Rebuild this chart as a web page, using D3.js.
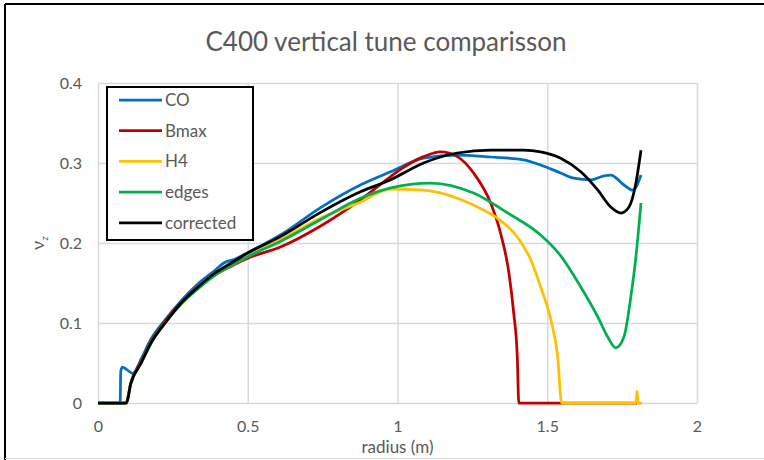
<!DOCTYPE html>
<html>
<head>
<meta charset="utf-8">
<script src="https://cdn.jsdelivr.net/npm/d3@7"></script>
<style>
  body { margin: 0; background: #fff; }
  text { font-family: Lato, "Open Sans", sans-serif; fill: #595959; }
</style>
</head>
<body>
<script>
// data: radius (m) and vertical tune
var coR = [0, 0.074, 0.076, 0.082, 0.095, 0.117, 0.144, 0.177, 0.224, 0.278, 0.334, 0.391, 0.42, 0.458, 0.5, 0.609, 0.742, 0.876, 0.977, 1.087, 1.2, 1.311, 1.421, 1.478, 1.545, 1.589, 1.645, 1.69, 1.712, 1.756, 1.786, 1.813];
var coV = [0, 0, 0.04, 0.045, 0.042, 0.037, 0.055, 0.08, 0.104, 0.128, 0.149, 0.166, 0.175, 0.18, 0.188, 0.21, 0.244, 0.2725, 0.289, 0.306, 0.31, 0.3075, 0.304, 0.2975, 0.2875, 0.281, 0.279, 0.284, 0.285, 0.2725, 0.266, 0.285];

var bmaxR = [0, 0.094, 0.11, 0.144, 0.177, 0.224, 0.278, 0.334, 0.391, 0.445, 0.5, 0.609, 0.742, 0.876, 0.977, 1.01, 1.087, 1.144, 1.2, 1.254, 1.311, 1.344, 1.372, 1.388, 1.4, 1.405, 1.8];
var bmaxV = [0, 0, 0.026, 0.052, 0.077, 0.102, 0.126, 0.145, 0.16, 0.171, 0.181, 0.195, 0.221, 0.254, 0.283, 0.292, 0.308, 0.314, 0.308, 0.2875, 0.25, 0.2125, 0.1625, 0.1125, 0.0575, 0, 0];

var h4R = [0, 0.094, 0.11, 0.144, 0.177, 0.224, 0.278, 0.334, 0.391, 0.445, 0.5, 0.609, 0.742, 0.876, 0.977, 1.087, 1.2, 1.288, 1.334, 1.4, 1.445, 1.478, 1.512, 1.535, 1.548, 1.796, 1.8, 1.804, 1.816];
var h4V = [0, 0, 0.025, 0.05, 0.075, 0.1, 0.124, 0.143, 0.16, 0.172, 0.183, 0.204, 0.231, 0.251, 0.2675, 0.266, 0.256, 0.241, 0.231, 0.2075, 0.179, 0.145, 0.104, 0.0575, 0, 0, 0.015, 0, 0];

var edgesR = [0, 0.094, 0.11, 0.144, 0.177, 0.224, 0.278, 0.334, 0.391, 0.445, 0.5, 0.609, 0.742, 0.876, 0.977, 1.11, 1.254, 1.368, 1.478, 1.545, 1.612, 1.669, 1.702, 1.729, 1.756, 1.779, 1.796, 1.813];
var edgesV = [0, 0, 0.025, 0.05, 0.075, 0.1, 0.124, 0.143, 0.16, 0.172, 0.183, 0.202, 0.229, 0.256, 0.269, 0.275, 0.2625, 0.2375, 0.21, 0.184, 0.145, 0.1075, 0.0825, 0.069, 0.0825, 0.1325, 0.1825, 0.25];

var corrR = [0, 0.094, 0.11, 0.144, 0.177, 0.224, 0.278, 0.334, 0.391, 0.445, 0.5, 0.609, 0.742, 0.876, 0.977, 1.087, 1.2, 1.311, 1.421, 1.478, 1.545, 1.612, 1.669, 1.712, 1.746, 1.773, 1.796, 1.813];
var corrV = [0, 0, 0.025, 0.05, 0.075, 0.1, 0.125, 0.145, 0.1625, 0.175, 0.1875, 0.208, 0.238, 0.264, 0.279, 0.3, 0.3125, 0.316, 0.316, 0.314, 0.306, 0.289, 0.266, 0.245, 0.2375, 0.245, 0.275, 0.316];

var seriesNames = ["CO", "Bmax", "H4", "edges", "corrected"];
var seriesColors = ["#0070C0", "#C00000", "#FFC000", "#00B050", "#000000"];
var xTicks = [0, 0.5, 1, 1.5, 2];
var yTicks = [0, 0.1, 0.2, 0.3, 0.4];

var series = [
  {name: seriesNames[0], r: coR, v: coV},
  {name: seriesNames[1], r: bmaxR, v: bmaxV},
  {name: seriesNames[2], r: h4R, v: h4V},
  {name: seriesNames[3], r: edgesR, v: edgesV},
  {name: seriesNames[4], r: corrR, v: corrV}
];

//Define Margin
var margin = {left: 98, right: 67, top: 83, bottom: 57},
  W = 764, H = 460,
  width = W - margin.left - margin.right,
  height = H - margin.top - margin.bottom;

var svg = d3.select("body").append("svg")
  .attr("width", W)
  .attr("height", H);

//chart border (top/left black, bottom grey)
svg.append("line").attr("x1", 5).attr("x2", W).attr("y1", 4).attr("y2", 4)
  .attr("stroke", "#000").attr("stroke-width", 2);
svg.append("line").attr("x1", 5).attr("x2", 5).attr("y1", 4).attr("y2", H)
  .attr("stroke", "#000").attr("stroke-width", 2);
svg.append("line").attr("x1", 5).attr("x2", W).attr("y1", 458.5).attr("y2", 458.5)
  .attr("stroke", "#d9d9d9").attr("stroke-width", 1);

var x = d3.scaleLinear().domain([0, 2]).range([0, width]);
var y = d3.scaleLinear().domain([0, 0.4]).range([height, 0]);

var g = svg.append("g").attr("transform", "translate(" + margin.left + "," + margin.top + ")");

//grid
g.append("g").attr("class", "grid")
  .call(d3.axisBottom(x).tickValues(xTicks).tickSize(-height).tickFormat(""))
  .attr("transform", "translate(0," + height + ")");
g.append("g").attr("class", "grid")
  .call(d3.axisLeft(y).tickValues(yTicks).tickSize(-width).tickFormat(""));
g.selectAll(".grid .domain").remove();
g.selectAll(".grid line").attr("stroke", "#d9d9d9").attr("stroke-width", 1.5);

//tick labels
var xAxis = g.append("g").attr("transform", "translate(0," + height + ")")
  .call(d3.axisBottom(x).tickValues(xTicks).tickSize(0).tickPadding(18).tickFormat(d3.format("")));
var yAxis = g.append("g")
  .call(d3.axisLeft(y).tickValues(yTicks).tickSize(0).tickPadding(16).tickFormat(d3.format("")));
xAxis.select(".domain").remove();
yAxis.select(".domain").remove();
g.selectAll(".tick text").style("font-size", "16px").attr("fill", "#595959");

//lines
var line = d3.line()
  .x(function(d) { return x(d[0]); })
  .y(function(d) { return y(d[1]); })
  .curve(d3.curveMonotoneX);

g.selectAll(".series")
  .data(series)
  .enter().append("path")
    .attr("class", "series")
    .attr("fill", "none")
    .attr("stroke", function(d, i) { return seriesColors[i]; })
    .attr("stroke-width", 2.75)
    .attr("stroke-linejoin", "round")
    .attr("d", function(d) { return line(d3.zip(d.r, d.v)); });

//title and axis labels
svg.append("text")
  .attr("x", 386).attr("y", 51)
  .attr("text-anchor", "middle")
  .style("font-size", "26px")
  .text("C400 vertical tune comparisson");

svg.append("text")
  .attr("x", margin.left + x(1)).attr("y", 453)
  .attr("text-anchor", "middle")
  .style("font-size", "17px")
  .text("radius (m)");

var ylab = svg.append("text")
  .attr("transform", "translate(44," + (margin.top + y(0.2)) + ") rotate(-90)")
  .attr("text-anchor", "middle")
  .style("font-size", "18px");
ylab.append("tspan").text("ν");
ylab.append("tspan").attr("dy", 4).style("font-size", "10px").text("z");

//legend
var legend = svg.append("g");
legend.append("rect")
  .attr("x", 107).attr("y", 87)
  .attr("width", 146).attr("height", 153)
  .attr("fill", "#fff")
  .attr("stroke", "#000").attr("stroke-width", 2);

var item = legend.selectAll(".item")
  .data(seriesNames)
  .enter().append("g")
    .attr("class", "item")
    .attr("transform", function(d, i) { return "translate(119," + (100 + i * 30.7) + ")"; });
item.append("line")
  .attr("x1", 0).attr("x2", 43)
  .attr("stroke", function(d, i) { return seriesColors[i]; })
  .attr("stroke-width", 2.75);
item.append("text")
  .attr("x", 46).attr("dy", "0.35em")
  .style("font-size", "17px")
  .text(function(d) { return d; });
</script>
</body>
</html>
